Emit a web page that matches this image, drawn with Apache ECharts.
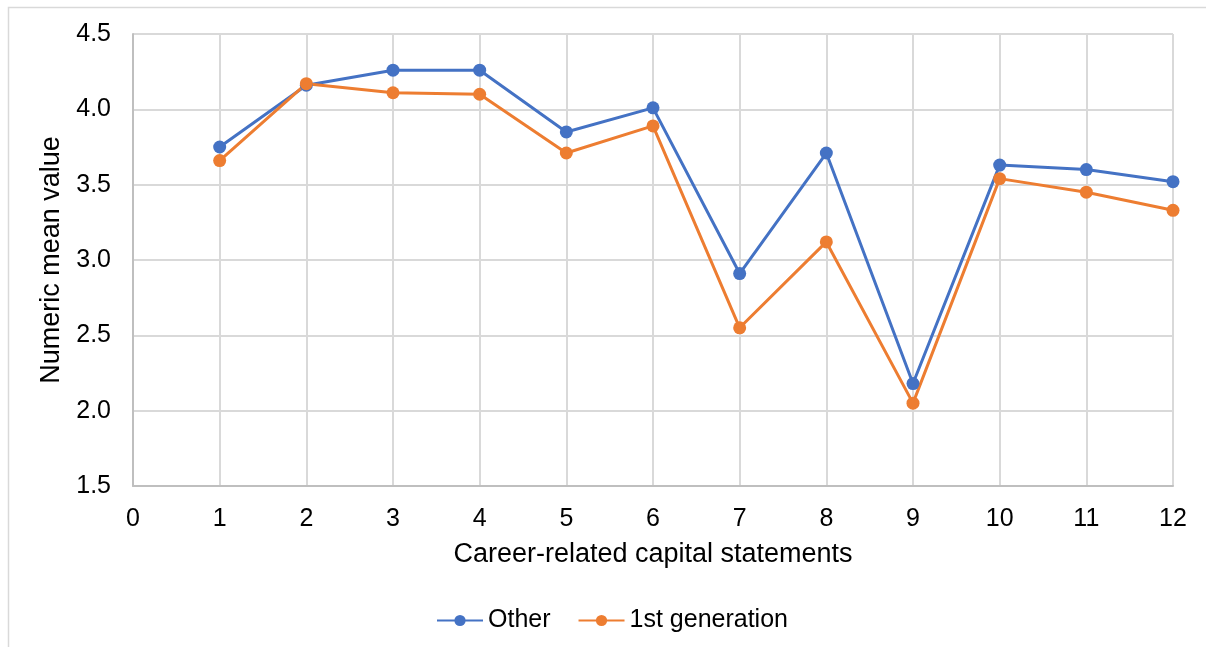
<!DOCTYPE html>
<html>
<head>
<meta charset="utf-8">
<script src="https://cdn.jsdelivr.net/npm/echarts@6/dist/echarts.min.js"></script>
<style>
html,body{margin:0;padding:0;background:#fff;}
#chart{width:1206px;height:647px;}
</style>
</head>
<body>
<div id="chart"></div>
<script>
const statements = [1,2,3,4,5,6,7,8,9,10,11,12];
const otherValues = [3.75,4.16,4.26,4.26,3.85,4.01,2.91,3.71,2.18,3.63,3.60,3.52];
const firstGenValues = [3.66,4.17,4.11,4.10,3.71,3.89,2.55,3.12,2.05,3.54,3.45,3.33];
const seriesNames = ['Other','1st generation'];
const xTitle = 'Career-related capital statements';
const yTitle = 'Numeric mean value';

const chart = echarts.init(document.getElementById('chart'), null, {renderer:'canvas'});
const font = 'Liberation Sans, Arial, sans-serif';
const pair = (vals) => statements.map((s,i)=>[s, vals[i]]);
chart.setOption({
  animation:false,
  backgroundColor:'#fff',
  graphic:[{type:'rect', shape:{x:8.5,y:7.5,width:1220,height:660}, style:{fill:'none', stroke:'#d9d9d9', lineWidth:1.5}, silent:true}],
  grid:{left:133, right:33, top:34, bottom:161},
  legend:{
    bottom:9, left:431, itemWidth:46, itemHeight:14, itemGap:27,
    textStyle:{fontFamily:font, fontSize:25, color:'#000'},
    data:seriesNames
  },
  xAxis:{
    type:'value', min:0, max:12, interval:1,
    name:xTitle, nameLocation:'middle', nameGap:55,
    nameTextStyle:{fontFamily:font, fontSize:27, color:'#000'},
    axisLine:{show:true, onZero:false, lineStyle:{color:'#bfbfbf', width:2}},
    axisTick:{show:false},
    axisLabel:{fontFamily:font, fontSize:25, color:'#000', margin:21},
    splitLine:{show:true, lineStyle:{color:'#d9d9d9', width:2}}
  },
  yAxis:{
    type:'value', min:1.5, max:4.5, interval:0.5,
    name:yTitle, nameLocation:'middle', nameGap:63, nameRotate:90,
    nameTextStyle:{fontFamily:font, fontSize:27, color:'#000'},
    axisLine:{show:true, lineStyle:{color:'#bfbfbf', width:2}},
    axisTick:{show:false},
    axisLabel:{fontFamily:font, fontSize:25, color:'#000', margin:22, formatter:(v)=>v.toFixed(1)},
    splitLine:{show:true, lineStyle:{color:'#d9d9d9', width:2}}
  },
  series:[
    {name:seriesNames[0], type:'line', data:pair(otherValues), symbol:'circle', symbolSize:13,
     itemStyle:{color:'#4472C4'}, lineStyle:{color:'#4472C4', width:3}},
    {name:seriesNames[1], type:'line', data:pair(firstGenValues), symbol:'circle', symbolSize:13,
     itemStyle:{color:'#ED7D31'}, lineStyle:{color:'#ED7D31', width:3}}
  ]
});
</script>
</body>
</html>
